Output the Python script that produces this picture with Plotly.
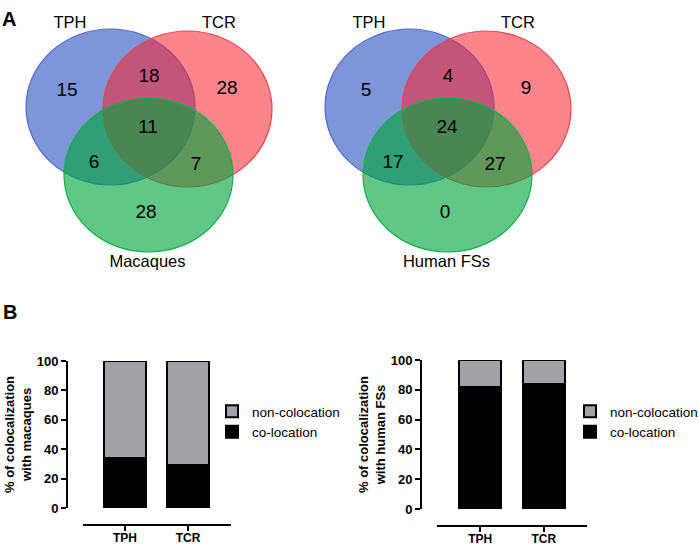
"""Venn diagrams + stacked colocalization bars, GraphPad-style."""

import plotly.graph_objects as go

W, H = 699, 547

# ---- data -------------------------------------------------------------
SET_LABELS_LEFT = ["TPH", "TCR", "Macaques"]
SET_LABELS_RIGHT = ["TPH", "TCR", "Human FSs"]
# regions: TPH only, TPH&TCR, TCR only, all three, TPH&3rd, TCR&3rd, 3rd only
macaque_counts = [15, 18, 28, 11, 6, 7, 28]
human_counts = [5, 4, 9, 24, 17, 27, 0]

categories = ["TPH", "TCR"]
macaque_coloc = [34, 29]
macaque_noncoloc = [66, 71]
human_coloc = [82, 84]
human_noncoloc = [18, 16]

# ---- layout constants (pixels, left venn; right venn is shifted) ------
VENN_SHIFT = 299
ELLIPSES = [  # x0, x1, y0, y1, fill, line
    (26, 195, 29, 185, "rgba(40,80,190,0.6)", "#4a6bd0"),
    (103, 272, 31, 187, "rgba(250,32,45,0.55)", "#e8474f"),
    (64, 233, 98, 252, "rgba(0,165,60,0.62)", "#14b04a"),
]
REGION_XY = [(67, 91), (149, 77), (227, 89), (148, 128), (94, 163), (196, 165), (146, 213)]
LABEL_XY = [(70, 24), (219, 24), (147.5, 262.5)]

FONT = "Arial, Liberation Sans, sans-serif"
GRAY = "#a2a2a6"


def px_x(p):
    return p / W


def px_y(p):
    return 1 - p / H


fig = go.Figure()

# ---- venns (one invisible pixel-scaled axis for both) -------------------
for i, (counts, labels) in enumerate([(macaque_counts, SET_LABELS_LEFT),
                                      (human_counts, SET_LABELS_RIGHT)]):
    dx = VENN_SHIFT * i
    for x0, x1, y0, y1, fill, line in ELLIPSES:
        fig.add_shape(type="circle", xref="x3", yref="y3",
                      x0=x0 + dx, x1=x1 + dx, y0=y0, y1=y1,
                      fillcolor=fill, line=dict(color=line, width=1.2),
                      layer="below")
    fig.add_trace(go.Scatter(
        x=[p[0] + dx for p in REGION_XY], y=[p[1] for p in REGION_XY],
        text=[str(c) for c in counts], mode="text",
        textfont=dict(family=FONT, size=19, color="black"),
        xaxis="x3", yaxis="y3", showlegend=False, hoverinfo="skip",
    ))
    fig.add_trace(go.Scatter(
        x=[p[0] + dx for p in LABEL_XY], y=[p[1] for p in LABEL_XY],
        text=labels, mode="text",
        textfont=dict(family=FONT, size=16.5, color="black"),
        xaxis="x3", yaxis="y3", showlegend=False, hoverinfo="skip",
    ))

venn_axis = dict(visible=False, fixedrange=True, automargin=False)
fig.update_layout(
    xaxis3=dict(domain=[0, 1], range=[0, W], **venn_axis),
    yaxis3=dict(domain=[px_y(280), 1], range=[280, 0], **venn_axis),
)

# ---- stacked bars -----------------------------------------------------
bar_sets = [
    ("", "legend", macaque_coloc, macaque_noncoloc),
    ("2", "legend2", human_coloc, human_noncoloc),
]
for ax, leg, coloc, noncoloc in bar_sets:
    fig.add_trace(go.Bar(
        x=categories, y=coloc, name="co-location",
        marker=dict(color="black", line=dict(color="black", width=2)),
        xaxis="x" + ax, yaxis="y" + ax, legend=leg,
    ))
    fig.add_trace(go.Bar(
        x=categories, y=noncoloc, name="non-colocation",
        marker=dict(color=GRAY, line=dict(color="black", width=2)),
        xaxis="x" + ax, yaxis="y" + ax, legend=leg,
    ))

tick_font = dict(family=FONT, size=13, color="black", weight="bold")
title_font = dict(family=FONT, size=13, color="black", weight="bold")


def bar_axes(x_dom, x_rng, y_axis_px, y_top, y_bot, x_line_px, title):
    xa = dict(
        domain=[px_x(x_dom[0]), px_x(x_dom[1])], range=x_rng,
        anchor="free", position=px_y(x_line_px),
        showline=True, linecolor="black", linewidth=2,
        ticks="outside", ticklen=5, tickwidth=2, tickcolor="black",
        tickfont=dict(tick_font, size=12), ticklabelstandoff=-3,
        showgrid=False, zeroline=False, fixedrange=True, automargin=False,
    )
    ya = dict(
        domain=[px_y(y_bot), px_y(y_top)], range=[0, 100],
        anchor="free", position=px_x(y_axis_px),
        showline=True, linecolor="black", linewidth=2,
        ticks="outside", ticklen=5, tickwidth=2, tickcolor="black",
        tickvals=[0, 20, 40, 60, 80, 100], tickfont=tick_font,
        showgrid=False, zeroline=False, fixedrange=True, automargin=False,
        title=dict(text=title, font=title_font, standoff=1),
    )
    return xa, ya


xa1, ya1 = bar_axes((83, 231), [-0.667, 1.683], 67, 361, 508, 525,
                    "% of colocalization<br>with macaques")
xa2, ya2 = bar_axes((437, 587), [-0.677, 1.677], 421, 360, 509, 526,
                    "% of colocalization<br>with human FSs")

legend_style = dict(
    traceorder="reversed", font=dict(family=FONT, size=13.5, color="black"),
    bgcolor="rgba(0,0,0,0)", xanchor="left", yanchor="top",
    itemclick=False, itemdoubleclick=False, tracegroupgap=0,
)

fig.update_layout(
    width=W, height=H,
    margin=dict(l=0, r=0, t=0, b=0, autoexpand=False),
    paper_bgcolor="white", plot_bgcolor="white",
    barmode="stack", bargap=0.333,
    xaxis=xa1, yaxis=ya1, xaxis2=xa2, yaxis2=ya2,
    legend=dict(x=px_x(212), y=px_y(396), **legend_style),
    legend2=dict(x=px_x(570), y=px_y(396), **legend_style),
    showlegend=True,
)

# panel letters
for letter, x, y in [("A", 9, 19), ("B", 10, 312)]:
    fig.add_annotation(
        text=letter, xref="paper", yref="paper", x=px_x(x), y=px_y(y),
        xanchor="center", yanchor="middle", showarrow=False,
        font=dict(family=FONT, size=20, color="black", weight="bold"),
    )

fig.write_html("out.html", config=dict(displayModeBar=False),
               post_script="document.body.style.margin='0';")
